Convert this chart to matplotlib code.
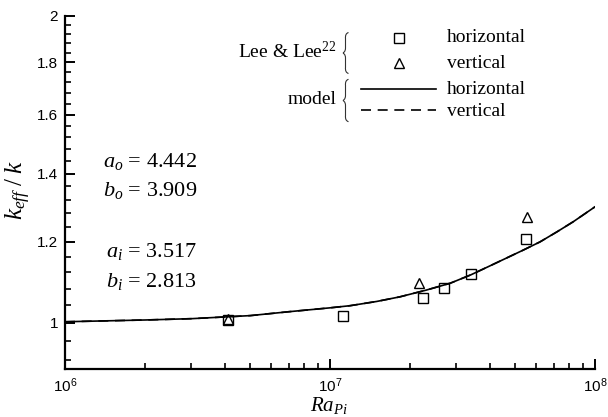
import math
import matplotlib
matplotlib.use("Agg")
import matplotlib.pyplot as plt
from matplotlib.path import Path
from matplotlib.patches import PathPatch
from matplotlib.lines import Line2D
from matplotlib.ticker import FixedLocator, LogLocator, FuncFormatter, NullFormatter

plt.rcParams["mathtext.fontset"] = "custom"
plt.rcParams["mathtext.rm"] = "Liberation Serif"
plt.rcParams["mathtext.it"] = "Liberation Serif:italic"
plt.rcParams["mathtext.sf"] = "Liberation Sans"

# Lee & Lee measurements
ra_horizontal = [4.12e6, 1.12e7, 2.24e7, 2.69e7, 3.40e7, 5.50e7]
k_horizontal = [1.007, 1.016, 1.057, 1.082, 1.115, 1.207]
ra_vertical = [4.12e6, 2.17e7, 5.53e7]
k_vertical = [1.008, 1.094, 1.269]

# model curve (horizontal and vertical coincide)
ra_model = [1e6, 2e6, 3e6, 5e6, 7e6, 1e7, 1.19e7, 1.5e7, 1.835e7, 2.3e7,
            2.84e7, 3.4e7, 4.02e7, 4.6e7, 5.36e7, 6.2e7, 7.2e7, 8.28e7, 1e8]
k_model_h = [1.002, 1.006, 1.009, 1.016, 1.025, 1.034, 1.039, 1.049, 1.060,
             1.076, 1.093, 1.114, 1.137, 1.156, 1.178, 1.200, 1.228, 1.256,
             1.299]
k_model_v = k_model_h

y_major = [1, 1.2, 1.4, 1.6, 1.8, 2]
y_major_labels = ["1", "1.2", "1.4", "1.6", "1.8", "2"]
y_minor = [0.92, 0.96, 1.04, 1.08, 1.12, 1.16, 1.24, 1.28, 1.32, 1.36,
           1.44, 1.48, 1.52, 1.56, 1.64, 1.68, 1.72, 1.76, 1.84, 1.88,
           1.92, 1.96]

W, H = 608, 417
fig = plt.figure(figsize=(W / 100, H / 100), dpi=100)
ax = fig.add_axes([65 / W, 1 - 369.3 / H, (595 - 65) / W, (369.3 - 15.7) / H])

ax.plot(ra_model, k_model_h, color="black", lw=1.2, zorder=2)
ax.plot(ra_model, k_model_v, color="black", lw=1.2, ls=(0, (6, 4)), zorder=2)
ax.plot(ra_horizontal, k_horizontal, ls="none", marker="s", ms=6.5,
        mfc="none", mec="black", mew=1.0, zorder=3)
ax.plot(ra_vertical, k_vertical, ls="none", marker="^", ms=7,
        mfc="none", mec="black", mew=1.0, zorder=3)

ax.set_xscale("log")
ax.set_yscale("log")
ax.set_xlim(1e6, 1e8)
ax.set_ylim(0.9, 2.0)

for s in ("top", "right"):
    ax.spines[s].set_visible(False)
for s in ("left", "bottom"):
    ax.spines[s].set_linewidth(1.6)

ax.xaxis.set_major_locator(LogLocator(base=10, numticks=10))
ax.xaxis.set_minor_locator(LogLocator(base=10, subs=range(2, 10), numticks=10))
ax.xaxis.set_major_formatter(
    FuncFormatter(lambda v, p: r"$\mathsf{10^{%d}}$" % round(math.log10(v))))
ax.xaxis.set_minor_formatter(NullFormatter())

ax.yaxis.set_major_locator(FixedLocator(y_major))
ax.yaxis.set_major_formatter(FuncFormatter(
    lambda v, p: y_major_labels[min(range(len(y_major)),
                                    key=lambda i: abs(y_major[i] - v))]))
ax.yaxis.set_minor_locator(FixedLocator(y_minor))
ax.yaxis.set_minor_formatter(NullFormatter())

ax.tick_params(which="major", direction="in", length=7, width=1.4,
               color="black", labelsize=11, pad=5)
ax.tick_params(which="minor", direction="in", length=4, width=1.2,
               color="black")
for lab in ax.get_xticklabels() + ax.get_yticklabels():
    lab.set_fontfamily("Liberation Sans")

serif = "Liberation Serif"


def fx(x):
    return x / W


def fy(y):
    return 1 - y / H


# axis titles
fig.text(fx(329), fy(405), r"$Ra_{Pi}$", fontsize=15, ha="center", va="center",
         family=serif)
fig.text(fx(18), fy(190), r"$k_{eff}\;/\;k$", fontsize=18, ha="center",
         va="center", rotation=90, family=serif)

# coefficients
coef_text = [(162, r"$a_o$ = 4.442"), (190, r"$b_o$ = 3.909"),
             (252, r"$a_i$ = 3.517"), (282, r"$b_i$ = 2.813")]
for yy, s in coef_text:
    fig.text(fx(197), fy(yy), s, fontsize=16, ha="right", va="center",
             family=serif)

# legend
fig.text(fx(336), fy(51), r"Lee & Lee$^{22}$", fontsize=14, ha="right",
         va="center", family=serif)
fig.text(fx(336), fy(100), "model", fontsize=14, ha="right", va="center",
         family=serif)


def brace(x, y0, y1):
    ym = (y0 + y1) / 2
    w = 5.5
    pts = [(x + w, y0), (x + 2, y0 + 1), (x + 2.5, y0 + 6),
           (x + 2.5, ym - 5),
           (x + 2.5, ym - 1), (x, ym), (x, ym),
           (x, ym), (x + 2.5, ym + 1), (x + 2.5, ym + 5),
           (x + 2.5, y1 - 6),
           (x + 2, y1 - 1), (x + w, y1)]
    codes = [Path.MOVETO, Path.CURVE3, Path.CURVE3,
             Path.LINETO,
             Path.CURVE4, Path.CURVE4, Path.CURVE4,
             Path.CURVE4, Path.CURVE4, Path.CURVE4,
             Path.LINETO,
             Path.CURVE3, Path.CURVE3]
    verts = [(fx(px), fy(py)) for px, py in pts]
    fig.add_artist(PathPatch(Path(verts, codes), transform=fig.transFigure,
                             fill=False, lw=0.8, edgecolor="#333333"))


brace(343, 32.5, 73.5)
brace(343, 79.3, 121.7)

fig.add_artist(Line2D([fx(399)], [fy(38)], marker="s", ms=6.5, mfc="none",
                      mec="black", mew=1.0, transform=fig.transFigure))
fig.add_artist(Line2D([fx(399)], [fy(63)], marker="^", ms=7, mfc="none",
                      mec="black", mew=1.0, transform=fig.transFigure))
fig.add_artist(Line2D([fx(361), fx(436)], [fy(89.3), fy(89.3)], color="black",
                      lw=1.2, transform=fig.transFigure))
fig.add_artist(Line2D([fx(361), fx(436)], [fy(110), fy(110)], color="black",
                      lw=1.2, ls=(0, (6, 4)), transform=fig.transFigure))

for yy, s in [(38, "horizontal"), (63, "vertical"), (89, "horizontal"),
              (111, "vertical")]:
    fig.text(fx(447), fy(yy), s, fontsize=14, ha="left", va="center",
             family=serif)

fig.savefig("out.png", dpi=100)
